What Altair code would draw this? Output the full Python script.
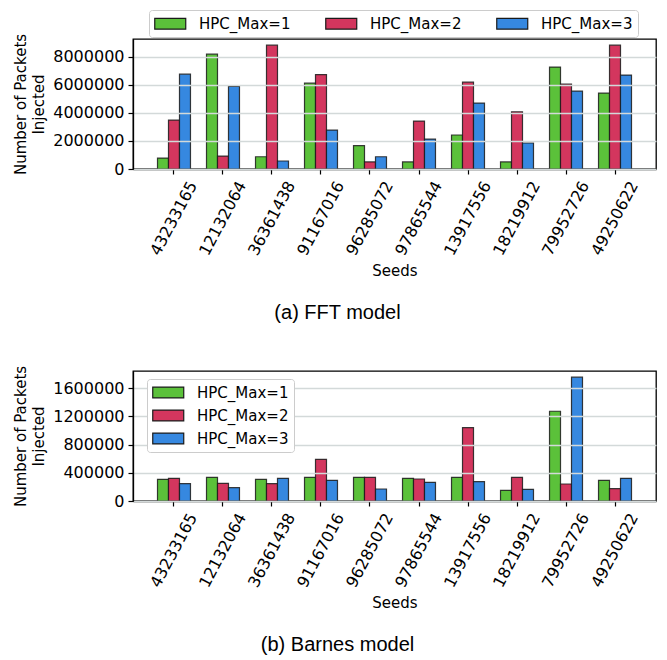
import altair as alt
import pandas as pd

seeds = ["43233165", "12132064", "36361438", "91167016", "96285072",
         "97865544", "13917556", "18219912", "79952726", "49250622"]
series = ["HPC_Max=1", "HPC_Max=2", "HPC_Max=3"]
colors = ["#5bc13a", "#d3365e", "#3688e0"]

fft_max1 = [780000, 8170000, 870000, 6110000, 1660000, 500000, 2420000, 500000, 7250000, 5400000]
fft_max2 = [3480000, 920000, 8810000, 6720000, 500000, 3410000, 6180000, 4070000, 6040000, 8810000]
fft_max3 = [6750000, 5870000, 570000, 2770000, 870000, 2130000, 4690000, 1850000, 5540000, 6680000]

barnes_max1 = [308000, 336000, 308000, 336000, 336000, 322000, 336000, 152000, 1274000, 294000]
barnes_max2 = [322000, 251000, 246000, 592000, 336000, 312000, 1041000, 336000, 241000, 175000]
barnes_max3 = [246000, 189000, 322000, 294000, 170000, 265000, 274000, 166000, 1757000, 322000]

fft_ticks = [0, 2000000, 4000000, 6000000, 8000000]
barnes_ticks = [0, 400000, 800000, 1200000, 1600000]

FONT = "DejaVu Sans"


def panel(vals, ymax, yticks, legend, caption):
    rows = []
    for s, v in zip(series, vals):
        for seed, val in zip(seeds, v):
            rows.append({"Seed": seed, "Series": s, "Value": val})
    df = pd.DataFrame(rows)
    return alt.Chart(df).mark_bar(
        stroke="#1a1a1a", strokeWidth=1.2, strokeOpacity=0.85
    ).encode(
        x=alt.X("Seed:N", sort=seeds, title="Seeds",
                scale=alt.Scale(paddingInner=0.327, paddingOuter=0.5),
                axis=alt.Axis(labelAngle=-62, labelAlign="center", labelBaseline="middle",
                              labelPadding=44, titlePadding=6, grid=False)),
        xOffset=alt.XOffset("Series:N", sort=series,
                            scale=alt.Scale(paddingInner=0, paddingOuter=0)),
        y=alt.Y("Value:Q", scale=alt.Scale(domain=[0, ymax], nice=False, zero=True),
                axis=alt.Axis(values=yticks, format="d", grid=True,
                              title=["Number of Packets", "Injected"],
                              titlePadding=6, titleLineHeight=18, zindex=1)),
        color=alt.Color("Series:N", sort=series,
                        scale=alt.Scale(domain=series, range=colors), legend=legend),
    ).properties(
        width=523, height=130,
        title=alt.TitleParams(caption, orient="bottom", anchor="middle",
                              font="Liberation Sans", fontSize=20, fontWeight="normal",
                              color="black", offset=24, dx=-57),
    )


top_legend = alt.Legend(title=None, orient="none", legendX=16, legendY=-29,
                        direction="horizontal", columns=3, columnPadding=32, zindex=2)
bottom_legend = alt.Legend(title=None, orient="none", legendX=14, legendY=8,
                           direction="vertical", rowPadding=6, zindex=2)

top = panel([fft_max1, fft_max2, fft_max3], 9250000, fft_ticks, top_legend, "(a) FFT model")
bottom = panel([barnes_max1, barnes_max2, barnes_max3], 1845000, barnes_ticks, bottom_legend,
               "(b) Barnes model")

chart = alt.vconcat(top, bottom, spacing=40).resolve_scale(
    color="independent"
).resolve_legend(
    color="independent"
).properties(
    padding={"left": 5, "top": 0, "right": 2, "bottom": 2}
).configure_view(
    stroke="black", strokeWidth=1.3
).configure_axis(
    labelFont=FONT, titleFont=FONT, labelColor="black", titleColor="black",
    titleFontWeight="normal", labelFontSize=16, titleFontSize=15,
    domainColor="black", domainWidth=1.3, tickColor="black", tickWidth=1.2, tickSize=5,
    gridColor="#d3d9d9", gridWidth=1.3, labelPadding=4
).configure_legend(
    symbolType="M-1,-0.7H3V0.7H-1Z", symbolSize=240, symbolStrokeColor="#1a1a1a",
    symbolStrokeWidth=1.2, symbolOpacity=1, labelFont=FONT, labelFontSize=15, labelColor="black",
    labelOffset=28, padding=5, strokeColor="#cccccc", fillColor="#ffffff", cornerRadius=3
)

chart.save("out.html", embed_options={"renderer": "svg", "actions": False})
